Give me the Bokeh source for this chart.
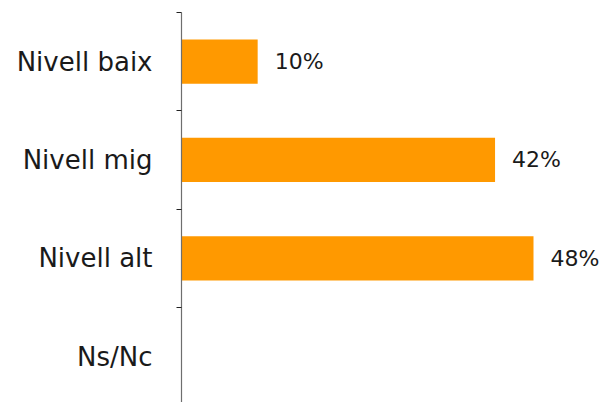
from bokeh.plotting import figure
from bokeh.models import Range1d, FixedTicker, ColumnDataSource
from bokeh.core.properties import value
from bokeh.embed import file_html
from bokeh.resources import INLINE

categories = ["Nivell baix", "Nivell mig", "Nivell alt", "Ns/Nc"]
values = [10.3, 42.4, 47.6, 0.0]
labels = ["10%", "42%", "48%", ""]

FONT = "DejaVu Sans"
ypos = [i + 0.5 for i in range(len(categories))]

src = ColumnDataSource(dict(y=ypos, v=values, lab=labels))

p = figure(width=604, height=402, output_backend="svg", toolbar_location=None,
           x_range=Range1d(0, 57.2), y_range=Range1d(3.967, 0),
           min_border_left=181, min_border_right=0, min_border_top=12, min_border_bottom=0)
p.outline_line_color = None
p.xgrid.visible = False
p.ygrid.visible = False
p.xaxis.visible = False

p.hbar(y="y", right="v", left=0, height=0.45, source=src, color="#FF9900", line_color=None)
p.text(x="v", y="y", text="lab", source=src, x_offset=17, text_baseline="middle",
       text_align="left", text_font=value(FONT), text_font_size="22px", text_color="#1a1a1a")

ax = p.yaxis[0]
ax.ticker = FixedTicker(ticks=ypos, minor_ticks=[0, 1, 2, 3, 4])
ax.major_label_overrides = {y: c for y, c in zip(ypos, categories)}
ax.major_tick_line_color = None
ax.major_tick_out = 0
ax.major_tick_in = 0
ax.minor_tick_out = 5
ax.minor_tick_in = 0
ax.minor_tick_line_color = "#222222"
ax.axis_line_color = "#6e6e6e"
ax.axis_line_width = 1.2
ax.major_label_standoff = 24
ax.major_label_text_font = FONT
ax.major_label_text_font_size = "26px"
ax.major_label_text_color = "#1a1a1a"

open("out.html", "w").write(file_html(p, INLINE))
